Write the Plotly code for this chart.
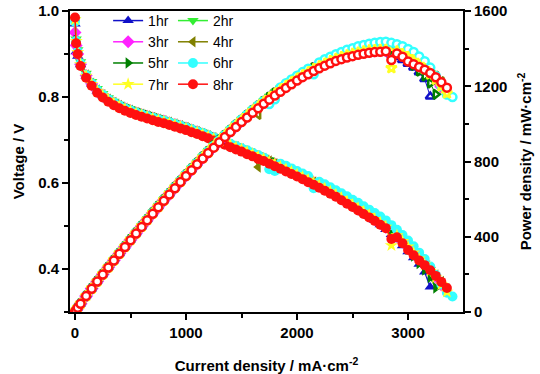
import plotly.graph_objects as go

CURRENT = [0, 10, 25, 50, 100, 150, 200, 250, 300, 350,
           400, 450, 500, 550, 600, 650, 700, 750, 800, 850,
           900, 950, 1000, 1050, 1100, 1150, 1200, 1250, 1300, 1350,
           1400, 1450, 1500, 1550, 1600, 1650, 1700, 1750, 1800, 1850,
           1900, 1950, 2000, 2050, 2100, 2150, 2200, 2250, 2300, 2350,
           2400, 2450, 2500, 2550, 2600, 2650, 2700, 2750, 2800, 2850,
           2900, 2950, 3000, 3050, 3100, 3150, 3200, 3250, 3300, 3350, 3400]

V_1HR = [0.970, 0.905, 0.895, 0.875, 0.849, 0.830, 0.814, 0.803, 0.793, 0.785,
         0.778, 0.772, 0.767, 0.762, 0.758, 0.754, 0.750, 0.746, 0.743, 0.739,
         0.735, 0.731, 0.727, 0.722, 0.718, 0.713, 0.708, 0.703, 0.698, 0.693,
         0.687, 0.682, 0.677, 0.671, 0.666, 0.660, 0.655, 0.649, 0.643, 0.637,
         0.631, 0.625, 0.619, 0.613, 0.606, 0.600, 0.593, 0.586, 0.579, 0.572,
         0.564, 0.556, 0.548, 0.540, 0.531, 0.522, 0.513, 0.503, 0.492, 0.480,
         0.468, 0.454, 0.440, 0.426, 0.411, 0.393, 0.358]
V_2HR = [0.980, 0.935, 0.910, 0.882, 0.855, 0.836, 0.820, 0.808, 0.798, 0.790,
         0.783, 0.777, 0.772, 0.767, 0.763, 0.759, 0.755, 0.751, 0.747, 0.743,
         0.739, 0.735, 0.731, 0.727, 0.722, 0.718, 0.713, 0.708, 0.703, 0.697,
         0.692, 0.687, 0.681, 0.676, 0.671, 0.665, 0.660, 0.654, 0.648, 0.642,
         0.636, 0.630, 0.624, 0.618, 0.611, 0.605, 0.598, 0.591, 0.584, 0.576,
         0.569, 0.561, 0.553, 0.545, 0.537, 0.529, 0.520, 0.511, 0.502, 0.492,
         0.482, 0.470, 0.457, 0.443, 0.429, 0.414, 0.398, 0.381, 0.362]
V_3HR = [0.950, 0.920, 0.900, 0.876, 0.850, 0.831, 0.815, 0.804, 0.794, 0.786,
         0.779, 0.773, 0.768, 0.763, 0.759, 0.755, 0.751, 0.747, 0.744, 0.740,
         0.736, 0.732, 0.728, 0.723, 0.719, 0.714, 0.709, 0.704, 0.699, 0.694,
         0.688, 0.683, 0.678, 0.672, 0.667, 0.661, 0.656, 0.650, 0.644, 0.638,
         0.632, 0.626, 0.620, 0.614, 0.607, 0.601, 0.594, 0.587, 0.580, 0.573,
         0.565, 0.557, 0.549, 0.541, 0.533, 0.524, 0.515, 0.506, 0.497, 0.487,
         0.477, 0.465, 0.451, 0.438, 0.425, 0.411, 0.396, 0.380, 0.363]
V_4HR = [0.982, 0.928, 0.903, 0.877, 0.851, 0.832, 0.816, 0.805, 0.795, 0.787,
         0.780, 0.774, 0.769, 0.764, 0.760, 0.756, 0.752, 0.748, 0.745, 0.741,
         0.737, 0.733, 0.729, 0.724, 0.720, 0.715, 0.710, 0.705, 0.700, 0.695,
         0.689, 0.684, 0.679, 0.673, 0.668, 0.637, 0.657, 0.651, 0.645, 0.639,
         0.633, 0.627, 0.621, 0.615, 0.608, 0.602, 0.595, 0.588, 0.581, 0.574,
         0.566, 0.558, 0.550, 0.542, 0.534, 0.526, 0.517, 0.508, 0.499, 0.489,
         0.478, 0.466, 0.452, 0.439, 0.426, 0.413, 0.400, 0.386, 0.371, 0.354]
V_5HR = [0.978, 0.932, 0.907, 0.880, 0.853, 0.834, 0.818, 0.807, 0.797, 0.789,
         0.782, 0.776, 0.771, 0.766, 0.762, 0.758, 0.754, 0.750, 0.746, 0.742,
         0.738, 0.734, 0.730, 0.726, 0.721, 0.717, 0.712, 0.707, 0.702, 0.696,
         0.691, 0.686, 0.680, 0.675, 0.670, 0.664, 0.659, 0.653, 0.647, 0.641,
         0.635, 0.629, 0.623, 0.617, 0.610, 0.604, 0.597, 0.590, 0.583, 0.575,
         0.568, 0.560, 0.552, 0.544, 0.536, 0.528, 0.519, 0.510, 0.500, 0.490,
         0.479, 0.464, 0.446, 0.430, 0.413, 0.398, 0.380, 0.356]
V_6HR = [0.975, 0.930, 0.905, 0.878, 0.851, 0.832, 0.816, 0.805, 0.795, 0.787,
         0.780, 0.774, 0.769, 0.764, 0.760, 0.756, 0.752, 0.748, 0.745, 0.741,
         0.737, 0.733, 0.729, 0.725, 0.720, 0.716, 0.711, 0.706, 0.701, 0.696,
         0.691, 0.686, 0.681, 0.676, 0.670, 0.665, 0.659, 0.632, 0.628, 0.645,
         0.640, 0.634, 0.628, 0.622, 0.616, 0.588, 0.603, 0.597, 0.590, 0.583,
         0.576, 0.569, 0.561, 0.554, 0.546, 0.538, 0.530, 0.522, 0.513, 0.502,
         0.491, 0.479, 0.466, 0.453, 0.438, 0.423, 0.406, 0.386, 0.364, 0.345, 0.336]
V_7HR = [0.980, 0.930, 0.904, 0.876, 0.849, 0.830, 0.814, 0.803, 0.793, 0.785,
         0.778, 0.772, 0.767, 0.762, 0.758, 0.754, 0.750, 0.746, 0.743, 0.739,
         0.735, 0.731, 0.727, 0.722, 0.718, 0.713, 0.708, 0.703, 0.698, 0.693,
         0.688, 0.683, 0.678, 0.672, 0.667, 0.661, 0.656, 0.650, 0.644, 0.638,
         0.632, 0.626, 0.620, 0.614, 0.607, 0.601, 0.594, 0.587, 0.580, 0.573,
         0.565, 0.557, 0.549, 0.541, 0.533, 0.525, 0.516, 0.507, 0.498, 0.455,
         0.478, 0.465, 0.452, 0.438, 0.424, 0.410, 0.395, 0.380, 0.364, 0.347]
V_8HR = [0.985, 0.925, 0.900, 0.872, 0.845, 0.826, 0.810, 0.799, 0.789, 0.781,
         0.774, 0.768, 0.763, 0.758, 0.754, 0.750, 0.746, 0.742, 0.739, 0.735,
         0.731, 0.727, 0.723, 0.718, 0.714, 0.709, 0.704, 0.699, 0.694, 0.689,
         0.683, 0.678, 0.673, 0.667, 0.662, 0.656, 0.651, 0.645, 0.639, 0.633,
         0.627, 0.621, 0.615, 0.609, 0.602, 0.596, 0.589, 0.582, 0.575, 0.568,
         0.560, 0.552, 0.544, 0.536, 0.528, 0.520, 0.512, 0.503, 0.495, 0.470,
         0.474, 0.460, 0.444, 0.432, 0.420, 0.409, 0.397, 0.384, 0.370, 0.356]

NAMES = ["1hr", "2hr", "3hr", "4hr", "5hr", "6hr", "7hr", "8hr"]
VOLTAGES = [V_1HR, V_2HR, V_3HR, V_4HR, V_5HR, V_6HR, V_7HR, V_8HR]
COLORS = ["#1010C8", "#33EE33", "#FF22FF", "#808000", "#008000", "#33FFFF", "#FFFF22", "#FF1010"]
SYMBOLS = ["triangle-up", "triangle-down", "diamond", "triangle-left",
           "triangle-right", "circle", "star", "circle"]

FONT = "Liberation Sans, Arial, sans-serif"

fig = go.Figure()

for i, name in enumerate(NAMES):
    v = VOLTAGES[i]
    x = CURRENT[:len(v)]
    fig.add_trace(go.Scatter(
        x=x, y=v, name=name, mode="lines+markers",
        line=dict(color=COLORS[i], width=1.5),
        marker=dict(symbol=SYMBOLS[i], size=10, color=COLORS[i]),
        legend="legend" if i % 2 == 0 else "legend2",
        yaxis="y",
    ))

for i, name in enumerate(NAMES):
    v = VOLTAGES[i]
    x = CURRENT[:len(v)]
    p = [c * vv for c, vv in zip(x, v)]
    fig.add_trace(go.Scatter(
        x=x, y=p, name=name + " P", mode="lines+markers",
        line=dict(color=COLORS[i], width=1),
        marker=dict(symbol=SYMBOLS[i], size=8, color="white",
                    line=dict(color=COLORS[i], width=2.5)),
        showlegend=False, yaxis="y2",
    ))

axis_common = dict(
    showline=True, linecolor="black", linewidth=2,
    ticks="outside", ticklen=6, tickwidth=2, tickcolor="black",
    showgrid=False, zeroline=False, automargin=False,
    tickfont=dict(family=FONT, size=15, color="black", weight="bold"),
)
title_font = dict(family=FONT, size=15, color="black", weight="bold")
legend_common = dict(y=1.02, xanchor="left", yanchor="top",
                     bgcolor="rgba(0,0,0,0)",
                     font=dict(family=FONT, size=14, color="black"),
                     tracegroupgap=0, itemwidth=30)

fig.update_layout(
    width=540, height=374,
    margin=dict(l=70, r=77, t=11, b=62, autoexpand=False),
    plot_bgcolor="white", paper_bgcolor="white",
    font=dict(family=FONT, color="black"),
    xaxis=dict(
        range=[-45, 3495], dtick=1000, tick0=0,
        mirror=True,
        minor=dict(dtick=500, ticklen=4, tickwidth=1.5, tickcolor="black", ticks="outside"),
        title=dict(text="Current density / mA·cm<sup>-2</sup>", standoff=22, font=title_font),
        **axis_common,
    ),
    yaxis=dict(
        range=[0.3, 1.0], dtick=0.2, tick0=0, tickformat=".1f",
        minor=dict(dtick=0.1, ticklen=4, tickwidth=1.5, tickcolor="black", ticks="outside"),
        title=dict(text="Voltage / V", standoff=10, font=title_font),
        **axis_common,
    ),
    yaxis2=dict(
        range=[0, 1600], dtick=400, tick0=0, overlaying="y", side="right",
        minor=dict(dtick=200, ticklen=4, tickwidth=1.5, tickcolor="black", ticks="outside"),
        title=dict(text="Power density / mW·cm<sup>-2</sup>", standoff=14, font=title_font),
        **axis_common,
    ),
    legend=dict(x=0.097, **legend_common),
    legend2=dict(x=0.262, **legend_common),
)

fig.write_html("out.html")
